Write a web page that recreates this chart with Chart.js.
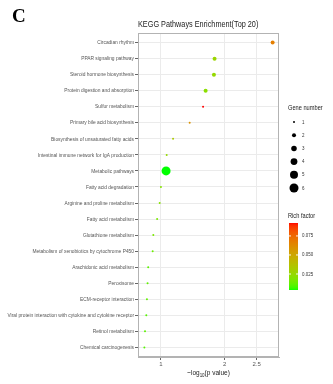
<!DOCTYPE html>
<html>
<head>
<meta charset="utf-8">
<script src="https://cdn.jsdelivr.net/npm/chart.js@4/dist/chart.umd.min.js"></script>
<style>
  html, body { margin: 0; padding: 0; background: #fff; overflow: hidden; }
  #wrap { position: relative; width: 333px; height: 384px; }
</style>
</head>
<body>
<div id="wrap"><canvas id="chart" width="333" height="384"></canvas></div>
<script>
// KEGG pathways, top to bottom
const pathways = [
  'Circadian rhythm',
  'PPAR signaling pathway',
  'Steroid hormone biosynthesis',
  'Protein digestion and absorption',
  'Sulfur metabolism',
  'Primary bile acid biosynthesis',
  'Biosynthesis of unsaturated fatty acids',
  'Intestinal immune network for IgA production',
  'Metabolic pathways',
  'Fatty acid degradation',
  'Arginine and proline metabolism',
  'Fatty acid metabolism',
  'Glutathione metabolism',
  'Metabolism of xenobiotics by cytochrome P450',
  'Arachidonic acid metabolism',
  'Peroxisome',
  'ECM-receptor interaction',
  'Viral protein interaction with cytokine and cytokine receptor',
  'Retinol metabolism',
  'Chemical carcinogenesis'
];

// -log10(p value)
const negLogP = [2.75, 1.84, 1.83, 1.70, 1.66, 1.45, 1.19, 1.09, 1.08, 1.00,
                 0.98, 0.94, 0.88, 0.87, 0.80, 0.79, 0.78, 0.77, 0.75, 0.74];

// genes hit in each pathway
const geneNumber = [2, 2, 2, 2, 1, 1, 1, 1, 6, 1,
                    1, 1, 1, 1, 1, 1, 1, 1, 1, 1];

// rich factor (hits / pathway size)
const richFactor = [0.067, 0.027, 0.025, 0.022, 0.092, 0.059, 0.033, 0.025, 0.004, 0.020,
                    0.020, 0.017, 0.017, 0.014, 0.011, 0.012, 0.012, 0.010, 0.011, 0.010];

const xTickValues = [1, 2, 2.5];
const geneLegendValues = [1, 2, 3, 4, 5, 6];
const richLegendValues = [0.025, 0.050, 0.075];

const FONT = "'Liberation Sans', Arial, sans-serif";
const NARROW = 0.81; // horizontal squeeze for a condensed look

// ---- colour scale: green -> red, interpolated in CIE Lab ----
const WHITE = [0.95047, 1, 1.08883];
function toLin(c) { c /= 255; return c <= 0.04045 ? c / 12.92 : Math.pow((c + 0.055) / 1.055, 2.4); }
function fromLin(c) {
  c = c <= 0.0031308 ? 12.92 * c : 1.055 * Math.pow(c, 1 / 2.4) - 0.055;
  return Math.round(Math.max(0, Math.min(1, c)) * 255);
}
function rgbToLab(rgb) {
  const R = toLin(rgb[0]), G = toLin(rgb[1]), B = toLin(rgb[2]);
  const X = (0.4124 * R + 0.3576 * G + 0.1805 * B) / WHITE[0];
  const Y = (0.2126 * R + 0.7152 * G + 0.0722 * B) / WHITE[1];
  const Z = (0.0193 * R + 0.1192 * G + 0.9505 * B) / WHITE[2];
  const f = t => t > 0.008856 ? Math.cbrt(t) : 7.787 * t + 16 / 116;
  const fx = f(X), fy = f(Y), fz = f(Z);
  return [116 * fy - 16, 500 * (fx - fy), 200 * (fy - fz)];
}
function labToRgb(lab) {
  const fy = (lab[0] + 16) / 116, fx = fy + lab[1] / 500, fz = fy - lab[2] / 200;
  const fi = t => t * t * t > 0.008856 ? t * t * t : (t - 16 / 116) / 7.787;
  const X = fi(fx) * WHITE[0], Y = fi(fy) * WHITE[1], Z = fi(fz) * WHITE[2];
  return [
    fromLin(3.2406 * X - 1.5372 * Y - 0.4986 * Z),
    fromLin(-0.9689 * X + 1.8758 * Y + 0.0415 * Z),
    fromLin(0.0557 * X - 0.2040 * Y + 1.0570 * Z)
  ];
}
const LOW = rgbToLab([0, 255, 0]);
const HIGH = rgbToLab([255, 0, 0]);
const richMin = Math.min(...richFactor);
const richMax = Math.max(...richFactor);
function richColor(v) {
  const t = Math.max(0, Math.min(1, (v - richMin) / (richMax - richMin)));
  const lab = [0, 1, 2].map(i => LOW[i] + (HIGH[i] - LOW[i]) * t);
  const c = labToRgb(lab);
  return `rgb(${c[0]},${c[1]},${c[2]})`;
}

// ---- point size: area-style scaling of gene number ----
const geneMin = 1, geneMax = 6, rMin = 1, rMax = 4.5;
function geneRadius(n) {
  return rMin + (Math.sqrt(n) - Math.sqrt(geneMin)) / (Math.sqrt(geneMax) - Math.sqrt(geneMin)) * (rMax - rMin);
}

const points = pathways.map((name, i) => ({ x: negLogP[i], y: i }));

// condensed text helper
function narrowText(ctx, text, x, y, align, font, color) {
  ctx.save();
  ctx.font = font;
  ctx.fillStyle = color;
  ctx.textAlign = align;
  ctx.textBaseline = 'middle';
  ctx.translate(x, y);
  ctx.scale(NARROW, 1);
  ctx.fillText(text, 0, 0);
  ctx.restore();
}

// extra text, frame and legends
const decorations = {
  id: 'decorations',
  afterDraw(chart) {
    const ctx = chart.ctx;
    const a = chart.chartArea;
    const ys = chart.scales.y;
    ctx.save();

    // panel frame
    ctx.strokeStyle = '#b3b3b3';
    ctx.lineWidth = 1;
    ctx.strokeRect(a.left + 0.5, a.top + 0.5, a.right - a.left - 1, a.bottom - a.top - 1);

    // pathway names on the y axis
    pathways.forEach((name, i) => {
      narrowText(ctx, name, a.left - 4, ys.getPixelForValue(i), 'right', '6px ' + FONT, '#555');
    });

    // panel letter
    ctx.fillStyle = '#000';
    ctx.font = "bold 19px 'Liberation Serif', 'Times New Roman', serif";
    ctx.textBaseline = 'alphabetic';
    ctx.textAlign = 'left';
    ctx.fillText('C', 12, 22);

    // title, left aligned with the panel
    narrowText(ctx, 'KEGG Pathways Enrichment(Top 20)', a.left, 25, 'left', '9px ' + FONT, '#222');

    // x axis title: −log10(p value)
    const big = '8px ' + FONT, small = '5.5px ' + FONT;
    ctx.font = big; const w1 = ctx.measureText('\u2212log').width * NARROW;
    ctx.font = small; const w2 = ctx.measureText('10').width * NARROW;
    ctx.font = big; const w3 = ctx.measureText('(p value)').width * NARROW;
    let x = (a.left + a.right) / 2 - (w1 + w2 + w3) / 2;
    const y = 373;
    narrowText(ctx, '\u2212log', x, y, 'left', big, '#222'); x += w1;
    narrowText(ctx, '10', x, y + 2, 'left', small, '#222'); x += w2;
    narrowText(ctx, '(p value)', x, y, 'left', big, '#222');

    // gene number legend
    const lx = a.right + 9;
    narrowText(ctx, 'Gene number', lx, 108, 'left', '7px ' + FONT, '#222');
    geneLegendValues.forEach((n, i) => {
      const cy = 122 + i * 13.2;
      ctx.fillStyle = '#000';
      ctx.beginPath();
      ctx.arc(lx + 6, cy, geneRadius(n), 0, Math.PI * 2);
      ctx.fill();
      narrowText(ctx, String(n), lx + 14, cy, 'left', '5.5px ' + FONT, '#333');
    });

    // rich factor colour bar
    narrowText(ctx, 'Rich factor', lx, 216, 'left', '7px ' + FONT, '#222');
    const barX = lx + 1, barW = 9, barTop = 223, barBottom = 290;
    for (let py = barTop; py < barBottom; py++) {
      const v = richMax - (py + 0.5 - barTop) / (barBottom - barTop) * (richMax - richMin);
      ctx.fillStyle = richColor(v);
      ctx.fillRect(barX, py, barW, 1);
    }
    richLegendValues.forEach(v => {
      const py = barBottom - (v - richMin) / (richMax - richMin) * (barBottom - barTop);
      ctx.strokeStyle = 'rgba(255,255,255,0.9)';
      ctx.lineWidth = 1;
      ctx.beginPath();
      ctx.moveTo(barX, py); ctx.lineTo(barX + 2, py);
      ctx.moveTo(barX + barW - 2, py); ctx.lineTo(barX + barW, py);
      ctx.stroke();
      narrowText(ctx, v.toFixed(3), barX + barW + 4, py, 'left', '5.5px ' + FONT, '#333');
    });

    ctx.restore();
  }
};

new Chart(document.getElementById('chart'), {
  type: 'scatter',
  data: {
    datasets: [{
      data: points,
      pointRadius: c => geneRadius(geneNumber[c.dataIndex]),
      pointBackgroundColor: c => richColor(richFactor[c.dataIndex]),
      pointBorderWidth: 0,
      pointBorderColor: 'rgba(0,0,0,0)'
    }]
  },
  options: {
    responsive: false,
    animation: false,
    devicePixelRatio: 1,
    events: [],
    layout: { padding: { top: 33, right: 54, bottom: 0, left: 0 } },
    plugins: { legend: { display: false }, tooltip: { enabled: false }, title: { display: false } },
    scales: {
      x: {
        type: 'linear',
        min: 0.64,
        max: 2.85,
        afterBuildTicks: s => { s.ticks = xTickValues.map(v => ({ value: v })); },
        afterFit: s => { s.height = 27; },
        grid: { color: '#ebebeb', lineWidth: 1, drawTicks: true, tickLength: 3, tickColor: '#666' },
        border: { display: true, color: '#b3b3b3' },
        ticks: { font: { family: FONT, size: 6 }, color: '#555', padding: 1, maxRotation: 0, autoSkip: false,
                 callback: v => String(v) }
      },
      y: {
        type: 'linear',
        reverse: true,
        min: -0.6,
        max: pathways.length - 0.4,
        afterBuildTicks: s => { s.ticks = pathways.map((_, i) => ({ value: i })); },
        afterFit: s => { s.width = 138; },
        grid: { color: '#ebebeb', lineWidth: 1, drawTicks: true, tickLength: 3, tickColor: '#666' },
        border: { display: true, color: '#b3b3b3' },
        ticks: { display: false }
      }
    }
  },
  plugins: [decorations]
});
</script>
</body>
</html>
